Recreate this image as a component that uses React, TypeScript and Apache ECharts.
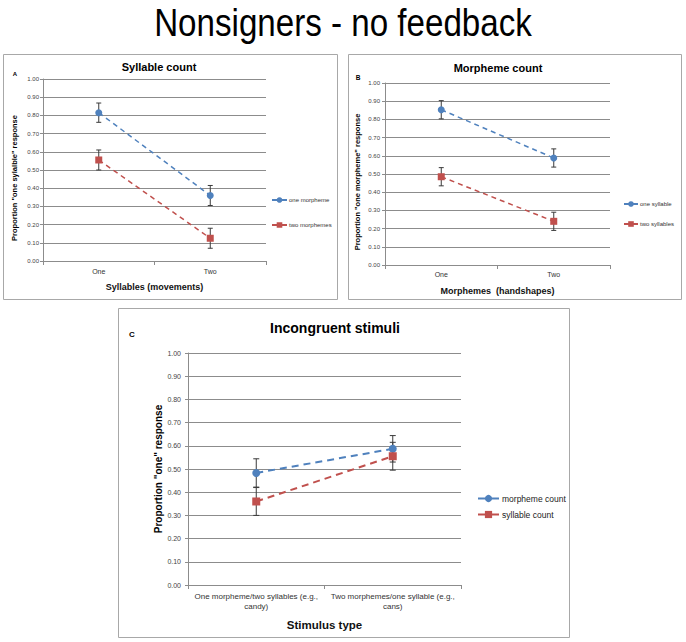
import React, { useEffect, useRef } from "react";
import * as echarts from "echarts";

// ---- Data ----
const mainTitle = "Nonsigners - no feedback";

const catsA = ["One", "Two"];
const oneMorpheme = [0.815, 0.36];
const oneMorphemeErr = [0.053, 0.055];
const twoMorphemes = [0.555, 0.125];
const twoMorphemesErr = [0.055, 0.055];

const catsB = ["One", "Two"];
const oneSyllable = [0.853, 0.588];
const oneSyllableErr = [0.05, 0.05];
const twoSyllables = [0.485, 0.24];
const twoSyllablesErr = [0.05, 0.05];

const catsC = [
  "One morpheme/two syllables (e.g.,\ncandy)",
  "Two morphemes/one syllable (e.g.,\ncans)",
];
const morphemeCount = [0.483, 0.587];
const morphemeCountErr = [0.061, 0.057];
const syllableCount = [0.36, 0.555];
const syllableCountErr = [0.06, 0.06];

const BLUE = "#4F81BD";
const RED = "#C0504D";
const GRIDC = "#8c8c8c";
const FONT = "'Liberation Sans', Arial, Helvetica, sans-serif";

function errData(vals: number[], errs: number[]) {
  return vals.map((v, i) => [i, v - errs[i], v + errs[i]]);
}

function errSeries(idx: number, data: number[][], cap: number) {
  return {
    type: "custom",
    xAxisIndex: idx,
    yAxisIndex: idx,
    z: 1,
    silent: true,
    encode: { x: 0, y: [1, 2] },
    data,
    renderItem: (params: any, api: any) => {
      const x = api.value(0);
      const lo = api.value(1);
      const hi = api.value(2);
      const pHi = api.coord([x, hi]);
      const pLo = api.coord([x, lo]);
      const st = { stroke: "#3a3a3a", lineWidth: 1 };
      return {
        type: "group",
        children: [
          { type: "line", shape: { x1: pHi[0], y1: pHi[1], x2: pLo[0], y2: pLo[1] }, style: st },
          { type: "line", shape: { x1: pHi[0] - cap, y1: pHi[1], x2: pHi[0] + cap, y2: pHi[1] }, style: st },
          { type: "line", shape: { x1: pLo[0] - cap, y1: pLo[1], x2: pLo[0] + cap, y2: pLo[1] }, style: st },
        ],
      };
    },
  };
}

function lineSeries(idx: number, name: string, data: number[], color: string, symbol: string, size: number, width: number, dash: number[]) {
  return {
    type: "line",
    name,
    xAxisIndex: idx,
    yAxisIndex: idx,
    z: 3,
    data,
    symbol,
    symbolSize: size,
    itemStyle: { color },
    lineStyle: { color, width, type: dash },
  };
}

function xAxis(idx: number, cats: string[], fontSize: number, margin: number, name: string, nameSize: number, nameGap: number) {
  return {
    type: "category",
    gridIndex: idx,
    data: cats,
    boundaryGap: true,
    axisLine: { lineStyle: { color: GRIDC, width: 1 } },
    axisTick: { show: true, alignWithLabel: false, length: 4, lineStyle: { color: GRIDC } },
    axisLabel: { interval: 0, fontSize, color: "#333", margin, fontFamily: FONT, lineHeight: fontSize * 1.25 },
    name,
    nameLocation: "middle",
    nameGap,
    nameTextStyle: { fontSize: nameSize, fontWeight: "bold", color: "#111", fontFamily: FONT },
  };
}

function yAxis(idx: number, fontSize: number, margin: number) {
  return {
    type: "value",
    gridIndex: idx,
    min: 0,
    max: 1,
    interval: 0.1,
    axisLine: { show: true, lineStyle: { color: GRIDC, width: 1 } },
    axisTick: { show: true, length: 3, lineStyle: { color: GRIDC } },
    splitLine: { show: true, lineStyle: { color: GRIDC, width: 1 } },
    axisLabel: {
      fontSize,
      color: "#444",
      margin,
      fontFamily: FONT,
      formatter: (v: number) => v.toFixed(2),
    },
  };
}

function txt(x: number, y: number, text: string, fontSize: number, bold: boolean, extra: any = {}) {
  const { fontFamily, ...rest } = extra;
  return {
    type: "text",
    x,
    y,
    z: 10,
    ...rest,
    style: {
      text,
      fontSize,
      fontWeight: bold ? "bold" : "normal",
      fontFamily: fontFamily || FONT,
      fill: "#000",
      align: "center",
      verticalAlign: "middle",
    },
  };
}

export default function App() {
  const ref = useRef<HTMLDivElement>(null);
  useEffect(() => {
    if (!ref.current) return;
    const chart = echarts.init(ref.current, undefined, { renderer: "svg" });
    const option: any = {
      animation: false,
      backgroundColor: "#ffffff",
      textStyle: { fontFamily: FONT },
      grid: [
        { left: 43, top: 79, width: 223, height: 182 },
        { left: 385, top: 83, width: 225, height: 182 },
        { left: 188, top: 353, width: 273, height: 232 },
      ],
      xAxis: [
        xAxis(0, catsA, 7, 6, "Syllables (movements)", 9, 21),
        xAxis(1, catsB, 7, 5, "Morphemes  (handshapes)", 9, 21),
        xAxis(2, catsC, 8, 6, "Stimulus type", 11.5, 34),
      ],
      yAxis: [yAxis(0, 6, 4), yAxis(1, 6, 5), yAxis(2, 7, 7)],
      legend: [
        {
          data: ["one morpheme", "two morphemes"],
          orient: "vertical",
          left: 266,
          top: 192,
          itemWidth: 15,
          itemHeight: 7,
          itemGap: 19,
          textStyle: { fontSize: 6, color: "#333", fontFamily: FONT, padding: [0, 0, 0, -3] },
          lineStyle: { type: "solid" },
        },
        {
          data: ["one syllable", "two syllables"],
          orient: "vertical",
          left: 618,
          top: 196,
          itemWidth: 14,
          itemHeight: 7,
          itemGap: 14,
          textStyle: { fontSize: 6, color: "#333", fontFamily: FONT, padding: [0, 0, 0, -3] },
          lineStyle: { type: "solid" },
        },
        {
          data: ["morpheme count", "syllable count"],
          orient: "vertical",
          left: 472,
          top: 489,
          itemWidth: 21,
          itemHeight: 9,
          itemGap: 7,
          textStyle: { fontSize: 8.5, color: "#222", fontFamily: FONT, padding: [0, 0, 0, -2] },
          lineStyle: { type: "solid" },
        },
      ],
      series: [
        errSeries(0, errData(oneMorpheme, oneMorphemeErr), 2.5),
        errSeries(0, errData(twoMorphemes, twoMorphemesErr), 2.5),
        errSeries(1, errData(oneSyllable, oneSyllableErr), 2.5),
        errSeries(1, errData(twoSyllables, twoSyllablesErr), 2.5),
        errSeries(2, errData(morphemeCount, morphemeCountErr), 3),
        errSeries(2, errData(syllableCount, syllableCountErr), 3),
        lineSeries(0, "one morpheme", oneMorpheme, BLUE, "circle", 7, 1.5, [5, 4]),
        lineSeries(0, "two morphemes", twoMorphemes, RED, "rect", 7, 1.5, [5, 4]),
        lineSeries(1, "one syllable", oneSyllable, BLUE, "circle", 7, 1.5, [5, 4]),
        lineSeries(1, "two syllables", twoSyllables, RED, "rect", 7, 1.5, [5, 4]),
        lineSeries(2, "morpheme count", morphemeCount, BLUE, "circle", 8, 2, [7, 5]),
        lineSeries(2, "syllable count", syllableCount, RED, "rect", 8, 2, [7, 5]),
      ],
      graphic: [
        { type: "rect", z: 0, shape: { x: 3.5, y: 54.5, width: 334, height: 245 }, style: { fill: "none", stroke: "#a8a8a8", lineWidth: 1 } },
        { type: "rect", z: 0, shape: { x: 348.5, y: 54.5, width: 333, height: 245 }, style: { fill: "none", stroke: "#a8a8a8", lineWidth: 1 } },
        { type: "rect", z: 0, shape: { x: 118.5, y: 308.5, width: 451, height: 329 }, style: { fill: "none", stroke: "#a8a8a8", lineWidth: 1 } },
        txt(343, 23, mainTitle, 39, false, { scaleX: 0.85 }),
        txt(159, 67, "Syllable count", 11, true),
        txt(498, 68, "Morpheme count", 11, true),
        txt(335, 328, "Incongruent stimuli", 14, true),
        txt(15, 74, "A", 6, true),
        txt(358, 77, "B", 6.5, true),
        txt(132, 334, "C", 8, true),
        txt(14, 178, "Proportion \"one sylalble\" response", 7.5, true, { rotation: Math.PI / 2 }),
        txt(357, 182, "Proportion \"one morpheme\" response", 7.5, true, { rotation: Math.PI / 2 }),
        txt(158, 469, "Proportion \"one\" response", 10, true, { rotation: Math.PI / 2 }),
      ],
    };
    chart.setOption(option);
    return () => chart.dispose();
  }, []);
  return (
    <div
      ref={ref}
      style={{ position: "absolute", left: 0, top: 0, width: 686, height: 642 }}
    />
  );
}
